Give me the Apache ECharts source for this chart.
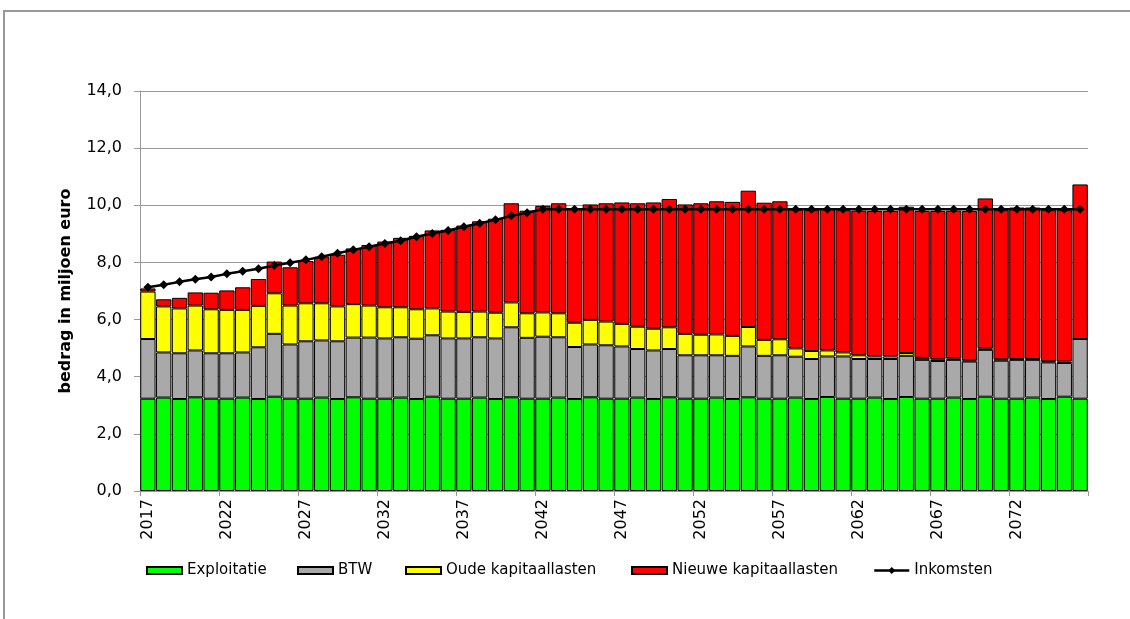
<!DOCTYPE html>
<html>
<head>
<meta charset="utf-8">
<style>
  html, body { margin: 0; padding: 0; background: #fff; }
  #chart { width: 1130px; height: 619px; }
</style>
<script src="https://cdn.jsdelivr.net/npm/echarts@6/dist/echarts.min.js"></script>
</head>
<body>
<div id="chart"></div>
<script>
const years = ['2017','2018','2019','2020','2021','2022','2023','2024','2025','2026',
  '2027','2028','2029','2030','2031','2032','2033','2034','2035','2036',
  '2037','2038','2039','2040','2041','2042','2043','2044','2045','2046',
  '2047','2048','2049','2050','2051','2052','2053','2054','2055','2056',
  '2057','2058','2059','2060','2061','2062','2063','2064','2065','2066',
  '2067','2068','2069','2070','2071','2072','2073','2074','2075','2076'];

const exploitatie = [3.23,3.27,3.22,3.28,3.23,3.23,3.27,3.22,3.30,3.23,
  3.23,3.27,3.22,3.28,3.23,3.23,3.27,3.22,3.30,3.23,
  3.23,3.27,3.22,3.28,3.23,3.23,3.27,3.22,3.28,3.23,
  3.23,3.27,3.22,3.28,3.23,3.23,3.27,3.22,3.28,3.23,
  3.23,3.27,3.22,3.29,3.23,3.23,3.27,3.22,3.29,3.23,
  3.23,3.27,3.22,3.30,3.23,3.23,3.27,3.22,3.30,3.23];

const btw = [2.09,1.58,1.60,1.64,1.59,1.59,1.58,1.81,2.20,1.90,
  2.01,2.00,2.02,2.09,2.14,2.11,2.11,2.11,2.15,2.11,
  2.11,2.11,2.12,2.45,2.13,2.17,2.11,1.82,1.85,1.87,
  1.83,1.70,1.70,1.69,1.52,1.52,1.48,1.51,1.78,1.50,
  1.52,1.43,1.40,1.42,1.48,1.39,1.35,1.40,1.44,1.36,
  1.32,1.32,1.31,1.64,1.33,1.36,1.32,1.28,1.18,2.09];

const oudeKapitaallasten = [1.66,1.61,1.57,1.57,1.54,1.52,1.49,1.45,1.42,1.36,
  1.33,1.30,1.22,1.17,1.12,1.09,1.05,1.03,0.94,0.94,
  0.93,0.90,0.90,0.87,0.86,0.85,0.84,0.85,0.86,0.83,
  0.79,0.78,0.76,0.76,0.75,0.72,0.73,0.70,0.68,0.56,
  0.56,0.29,0.28,0.21,0.14,0.13,0.09,0.09,0.10,0.07,
  0.06,0.05,0.04,0.05,0.05,0.03,0.03,0.04,0.05,0.00];

const nieuweKapitaallasten = [0.11,0.25,0.37,0.46,0.58,0.68,0.79,0.94,1.11,1.34,
  1.48,1.63,1.81,1.95,2.12,2.30,2.43,2.57,2.73,2.86,
  3.02,3.16,3.29,3.47,3.59,3.73,3.85,3.99,4.04,4.14,
  4.25,4.32,4.42,4.49,4.53,4.60,4.66,4.69,4.77,4.80,
  4.83,4.87,4.93,4.97,4.98,5.06,5.09,5.09,5.12,5.14,
  5.19,5.17,5.23,5.25,5.22,5.30,5.30,5.29,5.30,5.41];

const inkomsten = [7.13,7.22,7.32,7.41,7.49,7.60,7.69,7.78,7.89,7.99,
  8.09,8.20,8.32,8.44,8.55,8.66,8.76,8.90,9.01,9.12,
  9.25,9.37,9.49,9.63,9.74,9.86,9.86,9.86,9.86,9.86,
  9.86,9.86,9.86,9.86,9.86,9.86,9.86,9.86,9.86,9.86,
  9.86,9.86,9.86,9.86,9.86,9.86,9.86,9.86,9.86,9.86,
  9.86,9.86,9.86,9.86,9.86,9.86,9.86,9.86,9.86,9.86];

const seriesNames = ['Exploitatie', 'BTW', 'Oude kapitaallasten', 'Nieuwe kapitaallasten', 'Inkomsten'];
const yAxisTitle = 'bedrag in miljoen euro';

const FONT = 'DejaVu Sans';
const chart = echarts.init(document.getElementById('chart'), null, { renderer: 'canvas' });

function barSeries(name, data, color) {
  return {
    name: name, type: 'bar', stack: 'total', data: data,
    barCategoryGap: '3%',
    itemStyle: { color: color, borderColor: '#000', borderWidth: 1 },
    emphasis: { disabled: true },
    animation: false
  };
}

const legendLefts = [146, 297, 405, 631, 873];
const legends = seriesNames.map((n, i) => {
  const l = {
    data: [n],
    left: legendLefts[i],
    top: 563,
    itemWidth: 35,
    itemHeight: 7,
    itemGap: 0,
    padding: 0,
    selectedMode: false,
    textStyle: { fontFamily: FONT, fontSize: 15, color: '#000' }
  };
  if (i < 4) {
    l.icon = 'rect';
  } else {
    l.itemHeight = 9;
    l.top = 563;
    l.lineStyle = { width: 2.5, color: '#000' };
  }
  return l;
});

chart.setOption({
  animation: false,
  backgroundColor: '#fff',
  textStyle: { fontFamily: FONT },
  graphic: [{
    type: 'rect', silent: true, z: -10,
    shape: { x: 4, y: 11, width: 1140, height: 640 },
    style: { fill: 'none', stroke: '#999', lineWidth: 2 }
  }],
  grid: { left: 140, right: 42, top: 91, bottom: 128, containLabel: false },
  legend: legends,
  xAxis: {
    type: 'category',
    data: years,
    boundaryGap: true,
    axisLine: { lineStyle: { color: '#999', width: 1 } },
    axisTick: { show: true, interval: 4, length: 5, lineStyle: { color: '#999' } },
    axisLabel: { interval: 4, rotate: 90, margin: 8, fontFamily: FONT, fontSize: 16, color: '#000' }
  },
  yAxis: {
    type: 'value',
    min: 0, max: 14, interval: 2,
    name: yAxisTitle,
    nameLocation: 'middle',
    nameGap: 66,
    nameRotate: 90,
    nameTextStyle: { fontFamily: FONT, fontSize: 16, fontWeight: 'bold', color: '#000' },
    axisLine: { show: true, lineStyle: { color: '#999', width: 1 } },
    axisTick: { show: true, length: 6, lineStyle: { color: '#999' } },
    axisLabel: {
      margin: 18, fontFamily: FONT, fontSize: 16, color: '#000',
      formatter: v => v.toFixed(1).replace('.', ',')
    },
    splitLine: { show: true, lineStyle: { color: '#999', width: 1 } }
  },
  series: [
    barSeries(seriesNames[0], exploitatie, '#00FF00'),
    barSeries(seriesNames[1], btw, '#A9A9A9'),
    barSeries(seriesNames[2], oudeKapitaallasten, '#FFFF00'),
    barSeries(seriesNames[3], nieuweKapitaallasten, '#FF0000'),
    {
      name: seriesNames[4], type: 'line', data: inkomsten, z: 10,
      symbol: 'diamond', symbolSize: 9, showSymbol: true,
      lineStyle: { color: '#000', width: 2.5 },
      itemStyle: { color: '#000' },
      emphasis: { disabled: true },
      animation: false
    }
  ]
});
</script>
</body>
</html>
